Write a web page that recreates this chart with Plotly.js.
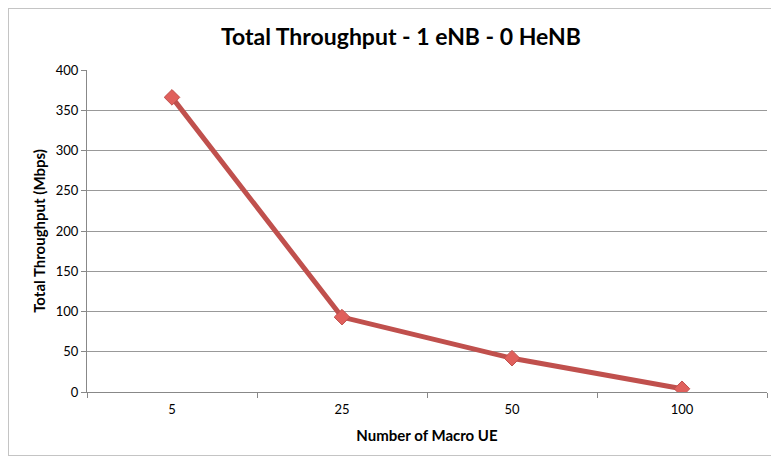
<!DOCTYPE html>
<html>
<head>
<meta charset="utf-8">
<script src="https://cdn.plot.ly/plotly-3.0.1.min.js"></script>
<style>
html,body{margin:0;padding:0;background:#fff;overflow:hidden;}
#frame{position:absolute;left:8px;top:8px;width:800px;height:448px;border:1px solid #c4c4c4;box-sizing:border-box;pointer-events:none;z-index:5;}
#chart{width:771px;height:461px;}
</style>
</head>
<body>
<div id="frame"></div>
<div id="chart"></div>
<script>
const categories = ["5", "25", "50", "100"];
const throughput = [366, 93, 42, 4];
const yTicks = [0, 50, 100, 150, 200, 250, 300, 350, 400];

const trace = {
  x: categories,
  y: throughput,
  type: "scatter",
  mode: "lines+markers",
  line: {color: "#C0504D", width: 5},
  marker: {symbol: "diamond", size: 12, color: "#E0605C", line: {color: "#C0504D", width: 1}},
  hoverinfo: "x+y"
};

const layout = {
  width: 771, height: 461,
  margin: {l: 87, r: 4, t: 70, b: 69},
  paper_bgcolor: "#ffffff",
  plot_bgcolor: "#ffffff",
  showlegend: false,
  font: {family: "Lato, 'Open Sans', sans-serif", color: "#000"},
  title: {
    text: "<b>Total Throughput - 1 eNB - 0 HeNB</b>",
    font: {family: "Lato, 'Open Sans', sans-serif", size: 23, color: "#000"},
    x: 0.52, xanchor: "center", y: 0.92, yanchor: "middle"
  },
  xaxis: {
    type: "category",
    range: [-0.5, 3.5],
    tickson: "boundaries",
    ticks: "outside", ticklen: 5, tickcolor: "#888",
    ticklabelstandoff: 5,
    showline: true, linecolor: "#888", linewidth: 1,
    showgrid: false, zeroline: false,
    tickfont: {size: 13, color: "#000"},
    title: {text: "<b>Number of Macro UE</b>", font: {size: 15, color: "#000"}, standoff: 14}
  },
  yaxis: {
    range: [0, 400],
    tickvals: yTicks,
    ticks: "outside", ticklen: 5, tickcolor: "#888",
    showline: true, linecolor: "#888", linewidth: 1,
    showgrid: true, gridcolor: "#999", gridwidth: 1,
    zeroline: false,
    tickfont: {size: 13, color: "#000"},
    title: {text: "<b>Total Throughput (Mbps)</b>", font: {size: 15, color: "#000"}, standoff: 6}
  }
};

Plotly.newPlot("chart", [trace], layout, {displayModeBar: false, staticPlot: true});
</script>
</body>
</html>
